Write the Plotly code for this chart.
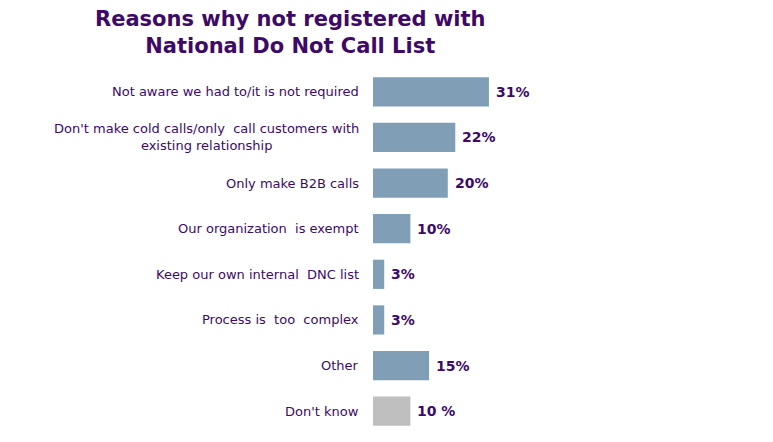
import plotly.graph_objects as go

categories = [
    "Not aware we had to/it is not required",
    "Don't make cold calls/only  call customers with<br>existing relationship",
    "Only make B2B calls",
    "Our organization  is exempt",
    "Keep our own internal  DNC list",
    "Process is  too  complex",
    "Other",
    "Don't know",
]
values = [31, 22, 20, 10, 3, 3, 15, 10]
value_labels = ["31%", "22%", "20%", "10%", "3%", "3%", "15%", "10 %"]
bar_colors = ["#809fb7"] * 7 + ["#bfbfbf"]

TEXT = "#3d0a68"
FONT = "DejaVu Sans, Verdana, sans-serif"

ids = list(range(len(categories)))

# page body has an 8px margin; compensate
OFF = 8
W, H = 773 - OFF, 442 - OFF
ML, MR, MT, MB = 373 - OFF, 0, 69 - OFF, 8
pw, ph = W - ML - MR, H - MT - MB

fig = go.Figure(go.Bar(
    x=values, y=ids, orientation="h",
    marker=dict(color=bar_colors, line=dict(width=0)),
    hoverinfo="skip",
))

annotations = []
for i, (c, v, t) in enumerate(zip(categories, values, value_labels)):
    annotations.append(dict(
        x=0, y=i, xref="x", yref="y", text=c, showarrow=False,
        xanchor="right", yanchor="middle", align="center", xshift=-12,
        font=dict(family=FONT, size=13, color=TEXT),
    ))
    annotations.append(dict(
        x=v, y=i, xref="x", yref="y", text="<b>" + t + "</b>", showarrow=False,
        xanchor="left", yanchor="middle", xshift=5,
        font=dict(family=FONT, size=14, color=TEXT),
    ))

annotations.append(dict(
    x=(290 - OFF - ML) / pw, y=(H - MB - (33 - OFF)) / ph, xref="paper", yref="paper",
    text="<b>Reasons why not registered with<br>National Do Not Call List</b>",
    showarrow=False, xanchor="center", yanchor="middle", align="center",
    font=dict(family=FONT, size=21, color=TEXT),
))

fig.update_layout(
    width=W, height=H,
    margin=dict(l=ML, r=MR, t=MT, b=MB),
    paper_bgcolor="white", plot_bgcolor="white",
    showlegend=False,
    bargap=0.36,
    xaxis=dict(range=[0, pw / 3.74], visible=False, fixedrange=True),
    yaxis=dict(range=[7.5, -0.5], visible=False, fixedrange=True),
    annotations=annotations,
)

fig.write_html("out.html")
